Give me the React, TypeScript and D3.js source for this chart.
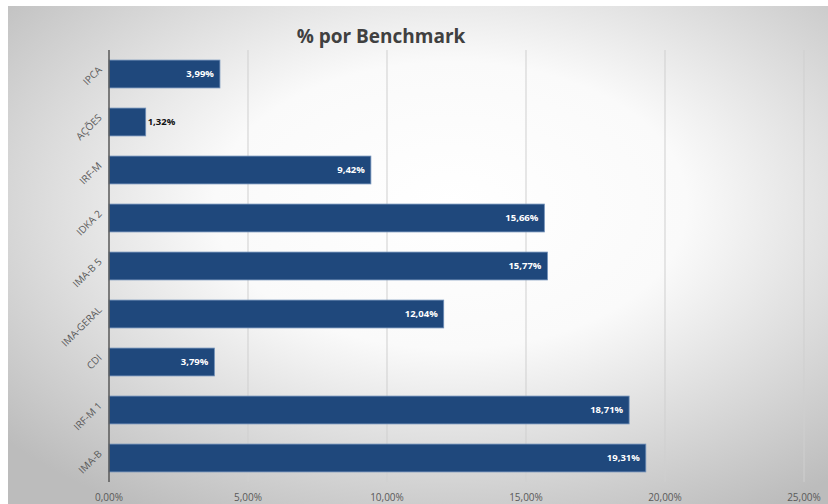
import { useRef, useEffect } from 'react';
import * as d3 from 'd3';

const categories = ['IPCA', 'AÇÕES', 'IRF-M', 'IDKA 2', 'IMA-B 5', 'IMA-GERAL', 'CDI', 'IRF-M 1', 'IMA-B'];
const values = [3.99, 1.32, 9.42, 15.66, 15.77, 12.04, 3.79, 18.71, 19.31];
const ticks = [0, 5, 10, 15, 20, 25];

const W = 828;
const H = 504;
const fmt = (v: number) => v.toFixed(2).replace('.', ',') + '%';

const App = () => {
  const svgRef = useRef<SVGSVGElement>(null);

  useEffect(() => {
    if (!svgRef.current) return;
    const svg = d3.select(svgRef.current);
    svg.selectAll('*').remove();

    const font = "'Open Sans', sans-serif";
    const left = 109, right = 804, top = 50, bottom = 482;

    // background gradient
    const defs = svg.append('defs');
    const bg = defs.append('radialGradient')
      .attr('id', 'bgGrad')
      .attr('cx', '54%').attr('cy', '40%').attr('r', '72%')
      .attr('gradientUnits', 'objectBoundingBox');
    bg.append('stop').attr('offset', '0%').attr('stop-color', '#ffffff');
    bg.append('stop').attr('offset', '40%').attr('stop-color', '#fafafa');
    bg.append('stop').attr('offset', '100%').attr('stop-color', '#bcbcbc');

    svg.append('rect')
      .attr('x', 8).attr('y', 6)
      .attr('width', W - 8).attr('height', H - 6)
      .attr('fill', 'url(#bgGrad)');

    const x = d3.scaleLinear().domain([0, 25]).range([left, right]);
    const y = d3.scaleBand<string>().domain(categories).range([top, bottom]).paddingInner(0.42).paddingOuter(0.21);

    // gridlines
    svg.append('g')
      .selectAll('line')
      .data(ticks.slice(1))
      .enter()
      .append('line')
      .attr('x1', d => x(d)).attr('x2', d => x(d))
      .attr('y1', top).attr('y2', bottom)
      .attr('stroke', '#cfcfcf')
      .attr('stroke-width', 1);

    // tick labels
    svg.append('g')
      .selectAll('text')
      .data(ticks)
      .enter()
      .append('text')
      .attr('x', d => x(d))
      .attr('y', 501)
      .attr('text-anchor', 'middle')
      .attr('font-family', font)
      .attr('font-size', 10)
      .attr('fill', '#595959')
      .text(d => fmt(d));

    // bars
    const data = categories.map((c, i) => ({ c, v: values[i] }));
    svg.append('g')
      .selectAll('rect')
      .data(data)
      .enter()
      .append('rect')
      .attr('x', x(0))
      .attr('y', d => y(d.c)!)
      .attr('width', d => x(d.v) - x(0))
      .attr('height', y.bandwidth())
      .attr('fill', '#1f487c')
      .attr('stroke', '#6f8fb8')
      .attr('stroke-width', 0.8);

    // value labels
    svg.append('g')
      .selectAll('text')
      .data(data)
      .enter()
      .append('text')
      .attr('x', d => (d.v < 2 ? x(d.v) + 2 : x(d.v) - 6))
      .attr('y', d => y(d.c)! + y.bandwidth() / 2)
      .attr('dy', '0.35em')
      .attr('text-anchor', d => (d.v < 2 ? 'start' : 'end'))
      .attr('font-family', font)
      .attr('font-size', 9.5)
      .attr('font-weight', 'bold')
      .attr('fill', d => (d.v < 2 ? '#111111' : '#ffffff'))
      .text(d => fmt(d.v));

    // category labels
    svg.append('g')
      .selectAll('text')
      .data(categories)
      .enter()
      .append('text')
      .attr('transform', d => `translate(${left - 9},${y(d)! + y.bandwidth() / 2 - 6}) rotate(-45)`)
      .attr('text-anchor', 'end')
      .attr('dy', '0.35em')
      .attr('font-family', font)
      .attr('font-size', 10)
      .attr('fill', '#595959')
      .text(d => d);

    // y axis line
    svg.append('line')
      .attr('x1', x(0)).attr('x2', x(0))
      .attr('y1', top).attr('y2', bottom)
      .attr('stroke', '#595959')
      .attr('stroke-width', 1.5);

    // title
    svg.append('text')
      .attr('x', 381)
      .attr('y', 43)
      .attr('text-anchor', 'middle')
      .attr('font-family', font)
      .attr('font-size', 19)
      .attr('font-weight', 'bold')
      .attr('fill', '#404040')
      .text('% por Benchmark');
  }, []);

  return (
    <svg
      ref={svgRef}
      width={W}
      height={H}
      style={{ position: 'absolute', left: 0, top: 0 }}
    />
  );
};

export default App;
